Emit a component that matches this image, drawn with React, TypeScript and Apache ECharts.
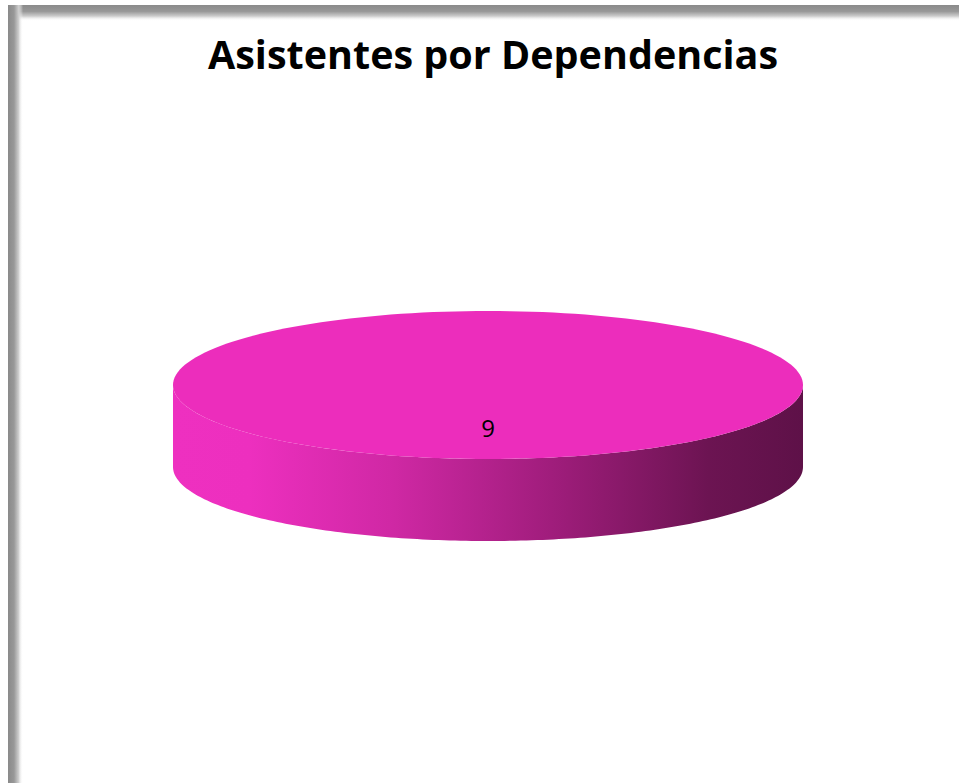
import React, { useEffect, useRef } from "react";
import * as echarts from "echarts";

const titleText = "Asistentes por Dependencias";
const categories = ["Asistentes"];
const values = [9];
const sliceColors = ["#ec2dbc"];
const sideDarkColors = ["#5e1148"];

export default function App() {
  const ref = useRef<HTMLDivElement>(null);
  useEffect(() => {
    if (!ref.current) return;
    const chart = echarts.init(ref.current, undefined, { renderer: "svg" });
    const total = values.reduce((a, b) => a + b, 0);
    const cx = 488;
    const cy = 385;
    const rx = 315;
    const ry = 74;
    const depth = 82;

    const renderItem = (params: any, api: any) => {
      const idx = params.dataIndex;
      const v = api.value(1);
      let before = 0;
      for (let i = 0; i < idx; i++) before += values[i];
      const a0 = -Math.PI / 2 + (before / total) * Math.PI * 2;
      const a1 = a0 + (v / total) * Math.PI * 2;
      const full = v >= total;
      const steps = 180;
      const topPts: number[][] = [];
      if (!full) topPts.push([cx, cy]);
      for (let s = 0; s <= steps; s++) {
        const t = a0 + ((a1 - a0) * s) / steps;
        topPts.push([cx + rx * Math.cos(t), cy + ry * Math.sin(t)]);
      }
      const children: any[] = [];
      const fa0 = Math.max(a0, 0);
      const fa1 = Math.min(a1, Math.PI);
      if (fa1 > fa0 || full) {
        const s0 = full ? 0 : fa0;
        const s1 = full ? Math.PI : fa1;
        const upper: number[][] = [];
        const lower: number[][] = [];
        for (let s = 0; s <= steps; s++) {
          const t = s0 + ((s1 - s0) * s) / steps;
          upper.push([cx + rx * Math.cos(t), cy + ry * Math.sin(t)]);
          lower.push([cx + rx * Math.cos(t), cy + ry * Math.sin(t) + depth]);
        }
        const sidePts = upper.concat(lower.reverse());
        children.push({
          type: "polygon",
          shape: { points: sidePts },
          style: {
            fill: new echarts.graphic.LinearGradient(0, 0, 1, 0, [
              { offset: 0, color: "#ee30c0" },
              { offset: 0.12, color: "#ed2fbf" },
              { offset: 0.35, color: "#cf28a4" },
              { offset: 0.6, color: "#a01d7c" },
              { offset: 0.85, color: "#6c1452" },
              { offset: 1, color: sideDarkColors[idx] },
            ]),
          },
        });
      }
      children.push({
        type: "polygon",
        shape: { points: topPts },
        style: { fill: sliceColors[idx] },
      });
      const mid = (a0 + a1) / 2;
      const lx = full ? cx : cx + rx * 0.5 * Math.cos(mid);
      const ly = full ? cy + 42 : cy + ry * 0.5 * Math.sin(mid);
      children.push({
        type: "text",
        x: lx,
        y: ly,
        style: {
          text: String(v),
          fill: "#000000",
          fontSize: 24,
          fontFamily: '"Liberation Sans Narrow", "Open Sans", sans-serif',
          align: "center",
          verticalAlign: "middle",
        },
      });
      return { type: "group", children };
    };

    const borderStops = [
      { offset: 0, color: "#8a8a8a" },
      { offset: 0.4, color: "#989898" },
      { offset: 0.7, color: "#cdcdcd" },
      { offset: 1, color: "rgba(255,255,255,0)" },
    ];

    chart.setOption({
      animation: false,
      backgroundColor: "#ffffff",
      title: {
        text: titleText,
        left: 488,
        top: 29,
        textAlign: "center",
        textStyle: {
          fontFamily: '"Open Sans", "Noto Sans", sans-serif',
          fontWeight: "bold",
          fontSize: 39.5,
          color: "#000000",
        },
      },
      graphic: [
        {
          type: "rect",
          shape: { x: 8, y: 5, width: 951, height: 16 },
          style: { fill: new echarts.graphic.LinearGradient(0, 0, 0, 1, borderStops) },
          z: 10,
        },
        {
          type: "rect",
          shape: { x: 8, y: 5, width: 15, height: 778 },
          style: { fill: new echarts.graphic.LinearGradient(0, 0, 1, 0, borderStops) },
          z: 11,
        },
      ],
      series: [
        {
          type: "custom",
          coordinateSystem: "none",
          renderItem,
          data: categories.map((c, i) => ({ name: c, value: [i, values[i]] })),
        },
      ],
    });
    return () => chart.dispose();
  }, []);
  return (
    <div
      ref={ref}
      style={{ position: "absolute", left: 0, top: 0, width: 959, height: 783 }}
    />
  );
}
